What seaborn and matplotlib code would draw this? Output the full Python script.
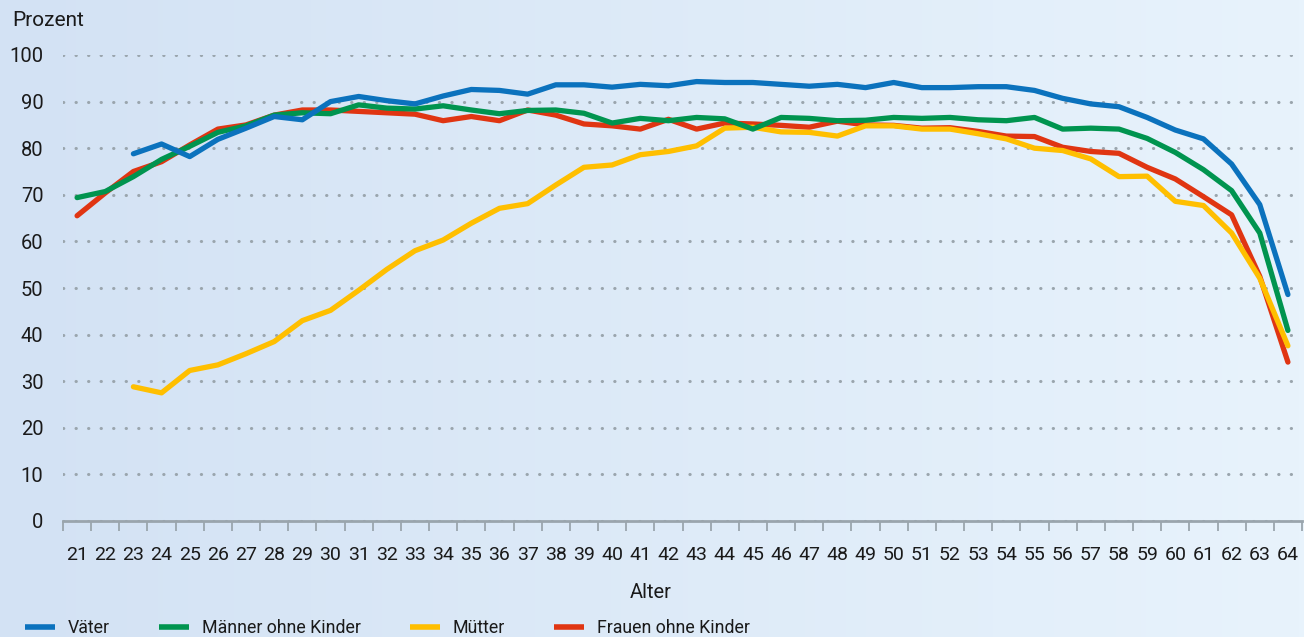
import numpy as np
import pandas as pd
import seaborn as sns
import matplotlib.pyplot as plt
from matplotlib.colors import LinearSegmentedColormap
from matplotlib.ticker import FixedLocator, NullFormatter

# Werte (Alter 21 bis 64)
alter = list(range(21, 65))

vaeter = [None, None,
          78.8, 80.9, 78.2, 81.9, 84.3, 86.8, 86.1, 90.0, 91.1, 90.2, 89.5, 91.2,
          92.6, 92.4, 91.6, 93.6, 93.6, 93.1, 93.7, 93.4, 94.3, 94.1, 94.1, 93.7,
          93.3, 93.7, 93.0, 94.1, 93.0, 93.0, 93.2, 93.2, 92.4, 90.7, 89.5, 88.9,
          86.6, 83.9, 82.0, 76.6, 67.9, 48.6]
maenner = [69.4, 70.7, 73.9, 77.6, 80.4, 83.4, 84.8, 87.1, 87.6, 87.4, 89.3, 88.6,
           88.4, 89.1, 88.2, 87.4, 88.1, 88.2, 87.5, 85.4, 86.4, 85.9, 86.6, 86.3,
           84.1, 86.6, 86.4, 85.9, 86.0, 86.6, 86.4, 86.6, 86.1, 85.9, 86.6, 84.1,
           84.3, 84.1, 82.1, 79.1, 75.4, 70.9, 61.8, 40.9]
muetter = [None, None,
           28.8, 27.5, 32.3, 33.5, 35.9, 38.5, 43.0, 45.2, 49.5, 54.0, 58.0, 60.3,
           63.9, 67.1, 68.1, 72.1, 75.9, 76.4, 78.6, 79.3, 80.5, 84.3, 84.5, 83.5,
           83.4, 82.6, 84.8, 84.8, 84.1, 84.1, 83.1, 82.0, 80.0, 79.5, 77.7, 73.9,
           74.0, 68.6, 67.7, 61.8, 52.1, 37.6]
frauen = [65.5, 70.4, 75.0, 77.1, 80.7, 84.1, 85.0, 87.1, 88.2, 88.2, 87.9, 87.6,
          87.3, 85.9, 86.8, 85.9, 88.2, 87.1, 85.2, 84.8, 84.1, 86.2, 84.1, 85.4,
          85.2, 84.9, 84.5, 85.8, 85.0, 84.9, 84.3, 84.4, 83.6, 82.6, 82.5, 80.2,
          79.3, 78.9, 75.9, 73.4, 69.6, 65.7, 52.5, 34.1]

gruppen = ["Väter", "Männer ohne Kinder", "Mütter", "Frauen ohne Kinder"]
farben = ["#0b72bd", "#00944f", "#ffbf00", "#e03512"]
ebenen = [5, 4, 3, 2]  # blau oben, rot unten

df = pd.concat([
    pd.DataFrame({"Alter": alter, "Prozent": werte, "Gruppe": name})
    for name, werte in zip(gruppen, [vaeter, maenner, muetter, frauen])
])
df["Prozent"] = pd.to_numeric(df["Prozent"])
df = df.dropna()

sns.set_theme(style="white")
plt.rcParams["font.family"] = ["Roboto", "DejaVu Sans"]
text_farbe = "#1a1a1a"
achsen_grau = "#9aa5ad"

fig = plt.figure(figsize=(13.04, 6.37), dpi=100)

# Hintergrund mit leichtem Farbverlauf
bg = fig.add_axes([0, 0, 1, 1], zorder=-10)
cmap = LinearSegmentedColormap.from_list("bg", ["#d3e2f4", "#e8f3fc"])
bg.imshow(np.linspace(0, 1, 256).reshape(1, -1), aspect="auto", cmap=cmap,
          extent=[0, 1, 0, 1])
bg.set_axis_off()

ax = fig.add_axes([63 / 1304, 1 - 521 / 637, 1239 / 1304, 466 / 637])
ax.patch.set_alpha(0)

sns.lineplot(data=df, x="Alter", y="Prozent", hue="Gruppe", hue_order=gruppen,
             palette=farben, linewidth=3.8, legend=False, ax=ax)
for line, z in zip(ax.lines, ebenen):
    line.set_zorder(z)
    line.set_solid_capstyle("round")
    line.set_solid_joinstyle("round")

ax.set_xlim(20.5, 64.5)
ax.set_ylim(0, 100)
ax.set_yticks(range(0, 101, 10))
ax.yaxis.grid(True, color=achsen_grau, linestyle=(0, (0.1, 4.0)), linewidth=2.2,
              dash_capstyle="round")
ax.xaxis.grid(False)

# Striche an den Kategoriegrenzen, Beschriftung in der Mitte
ax.xaxis.set_major_locator(FixedLocator(np.arange(20.5, 65, 1)))
ax.xaxis.set_major_formatter(NullFormatter())
ax.xaxis.set_minor_locator(FixedLocator(alter))
ax.set_xticklabels([str(a) for a in alter], minor=True)
ax.tick_params(axis="x", which="major", length=7, width=1.3, color=achsen_grau,
               direction="out", bottom=True)
ax.tick_params(axis="x", which="minor", length=0, pad=18, labelsize=14,
               labelcolor=text_farbe)
ax.tick_params(axis="y", length=0, pad=14, labelsize=14.5, labelcolor=text_farbe)

for s in ["top", "right", "left"]:
    ax.spines[s].set_visible(False)
ax.spines["bottom"].set_color(achsen_grau)
ax.spines["bottom"].set_linewidth(2)

ax.set_xlabel("Alter", fontsize=14.5, color=text_farbe)
ax.xaxis.set_label_coords(0.4746, -0.134)
ax.set_ylabel("")
fig.text(12 / 1304, 1 - 20 / 637, "Prozent", ha="left", va="center",
         fontsize=15, color=text_farbe)

leg = fig.legend(ax.lines, gruppen, loc="center left",
                 bbox_to_anchor=(25 / 1304, 1 - 628 / 637), ncol=4, frameon=False,
                 handlelength=1.7, handletextpad=0.72, columnspacing=2.75,
                 fontsize=12.8, borderaxespad=0, borderpad=0)
for h in leg.legend_handles:
    h.set_linewidth(4)
    h.set_solid_capstyle("butt")
for t in leg.get_texts():
    t.set_color(text_farbe)

fig.savefig("out.png", dpi=100)
